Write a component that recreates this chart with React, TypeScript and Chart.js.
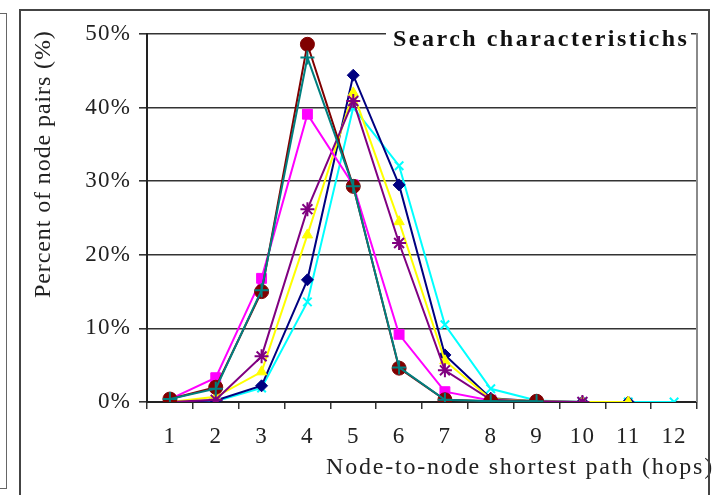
import React, { useEffect, useRef } from "react";
import { Chart, registerables } from "chart.js";

Chart.register(...registerables);

const hops = ["1", "2", "3", "4", "5", "6", "7", "8", "9", "10", "11", "12"];
const yTicks = [0, 10, 20, 30, 40, 50];

const seriesMaroon = [0.4, 2.0, 15.0, 48.6, 29.3, 4.6, 0.3, 0.1, 0.1, null, null, null];
const seriesTeal = [0.4, 1.8, 15.2, 46.8, 29.3, 4.7, 0.3, 0.1, 0.1, null, null, null];
const seriesMagenta = [0.4, 3.3, 16.8, 39.1, 29.5, 9.2, 1.4, 0.2, null, null, null, null];
const seriesPurple = [0, 0.3, 6.2, 26.2, 40.9, 21.6, 4.3, 0.3, 0.1, 0, null, null];
const seriesYellow = [0, 0.7, 4.1, 22.7, 42.0, 24.5, 5.6, 0.4, 0.1, 0, 0, null];
const seriesNavy = [0, 0.2, 2.2, 16.6, 44.4, 29.5, 6.4, 0.5, 0.1, 0, 0, null];
const seriesCyan = [0, 0.1, 1.9, 13.6, 40.0, 32.1, 10.5, 1.8, 0.2, 0, 0, 0];

const chartTitle = "Search characteristichs";
const xTitle = "Node-to-node shortest path (hops)";
const yTitle = "Percent of node pairs (%)";

const SERIF = "'Liberation Serif', 'Times New Roman', serif";

const textPlugin = {
  id: "customText",
  beforeUpdate(chart: any) {
    chart.ctx.letterSpacing = "1.2px";
  },
  beforeDraw(chart: any) {
    chart.ctx.letterSpacing = "1.2px";
  },
  afterDraw(chart: any) {
    const ctx = chart.ctx;
    const area = chart.chartArea;
    // right border of plot
    ctx.save();
    ctx.strokeStyle = "#8a8a8a";
    ctx.lineWidth = 2;
    ctx.beginPath();
    ctx.moveTo(area.right, area.top - 1);
    ctx.lineTo(area.right, area.bottom);
    ctx.stroke();
    ctx.restore();

    // chart title with white background
    ctx.save();
    ctx.fillStyle = "#ffffff";
    ctx.fillRect(386, area.top - 14, 305, 28);
    ctx.font = `bold 24px ${SERIF}`;
    ctx.letterSpacing = "2.5px";
    ctx.fillStyle = "#111";
    ctx.textAlign = "left";
    ctx.textBaseline = "alphabetic";
    ctx.fillText(chartTitle, 393, 46);
    ctx.restore();

    // x title
    ctx.save();
    ctx.font = `24px ${SERIF}`;
    ctx.letterSpacing = "1.8px";
    ctx.fillStyle = "#222";
    ctx.textAlign = "right";
    ctx.textBaseline = "alphabetic";
    ctx.fillText(xTitle, 714, 474);
    ctx.restore();

    // y title
    ctx.save();
    ctx.font = `24px ${SERIF}`;
    ctx.letterSpacing = "0.9px";
    ctx.fillStyle = "#222";
    ctx.translate(50, 298);
    ctx.rotate(-Math.PI / 2);
    ctx.textAlign = "left";
    ctx.textBaseline = "alphabetic";
    ctx.fillText(yTitle, 0, 0);
    ctx.restore();
  },
};

function makeSet(label: string, data: (number | null)[], color: string, style: string, radius: number, fill: boolean) {
  return {
    label,
    data,
    borderColor: color,
    backgroundColor: color,
    borderWidth: 2,
    pointStyle: style,
    pointRadius: radius,
    pointHoverRadius: radius,
    pointBorderWidth: fill ? 1 : 2,
    pointBackgroundColor: color,
    pointBorderColor: color,
    spanGaps: false,
    tension: 0,
    fill: false,
  };
}

export default function App() {
  const canvasRef = useRef<HTMLCanvasElement | null>(null);

  useEffect(() => {
    if (!canvasRef.current) return;
    const chart = new Chart(canvasRef.current, {
      type: "line",
      data: {
        labels: hops,
        datasets: [
          makeSet("Series A", seriesTeal, "#008080", "cross", 7, false),
          makeSet("Series B", seriesMaroon, "#800000", "circle", 7, true),
          makeSet("Series C", seriesMagenta, "#ff00ff", "rect", 7, true),
          makeSet("Series D", seriesPurple, "#800080", "star", 7, false),
          makeSet("Series E", seriesYellow, "#ffff00", "triangle", 6, true),
          makeSet("Series F", seriesNavy, "#000080", "rectRot", 6, true),
          makeSet("Series G", seriesCyan, "#00ffff", "crossRot", 6, false),
        ] as any,
      },
      options: {
        animation: false,
        responsive: true,
        maintainAspectRatio: false,
        layout: { padding: { top: 34, right: 18, left: 0, bottom: 0 } },
        plugins: {
          legend: { display: false },
          tooltip: { enabled: false },
          title: { display: false },
        },
        scales: {
          x: {
            type: "category",
            offset: true,
            grid: {
              offset: true,
              drawOnChartArea: false,
              drawTicks: true,
              tickLength: 7,
              color: "#333",
              lineWidth: 1.5,
            },
            border: { display: true, color: "#222", width: 2 },
            ticks: {
              font: { family: SERIF, size: 23 },
              color: "#222",
              padding: 14,
              maxRotation: 0,
              autoSkip: false,
            },
            afterFit(scale: any) {
              scale.height = 93;
            },
          },
          y: {
            min: 0,
            max: 50,
            afterBuildTicks(scale: any) {
              scale.ticks = yTicks.map((v) => ({ value: v }));
            },
            grid: {
              color: "#333",
              lineWidth: 1.6,
              drawTicks: true,
              tickLength: 8,
            },
            border: { display: true, color: "#222", width: 2 },
            ticks: {
              font: { family: SERIF, size: 23 },
              color: "#222",
              padding: 8,
              callback: (v: any) => `${v}%`,
            },
            afterFit(scale: any) {
              scale.width = 147;
            },
          },
        },
      },
      plugins: [textPlugin],
    });
    return () => chart.destroy();
  }, []);

  return (
    <div style={{ position: "fixed", left: 0, top: 0, width: 715, height: 495, background: "#fff", overflow: "hidden" }}>
      <canvas ref={canvasRef} style={{ position: "absolute", left: 0, top: 0, width: 715, height: 495 }} />
      <div
        style={{
          position: "absolute",
          left: 19,
          top: 9,
          width: 687,
          height: 520,
          borderTop: "2px solid #444",
          borderLeft: "2px solid #444",
          borderRight: "2px solid #444",
          pointerEvents: "none",
        }}
      />
      <div
        style={{
          position: "absolute",
          left: -10,
          top: 13,
          width: 16,
          height: 474,
          borderTop: "1.5px solid #666",
          borderBottom: "1.5px solid #666",
          borderRight: "1.5px solid #666",
          pointerEvents: "none",
        }}
      />
    </div>
  );
}
